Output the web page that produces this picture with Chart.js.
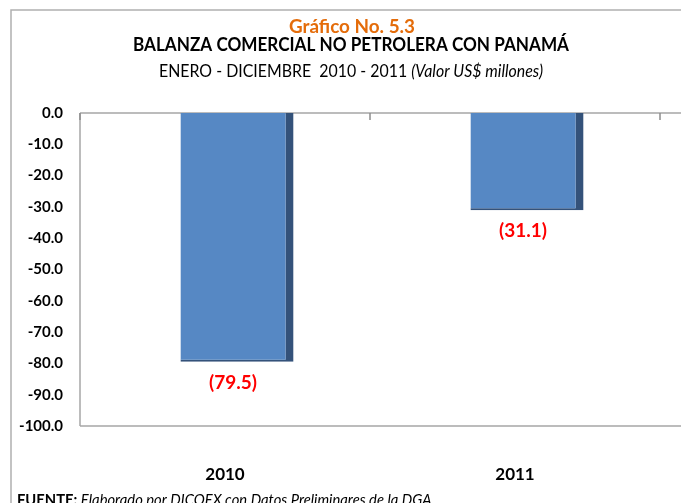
<!DOCTYPE html>
<html>
<head>
<meta charset="utf-8">
<script src="https://cdn.jsdelivr.net/npm/chart.js@4.4.0/dist/chart.umd.min.js"></script>
<style>
html,body{margin:0;padding:0;background:#ffffff;}
#wrap{width:681px;height:503px;position:relative;overflow:hidden;}
</style>
</head>
<body>
<div id="wrap"><canvas id="c" width="681" height="503"></canvas></div>
<script>
// ---- data ----
const categories = ['2010', '2011'];
const balanceValues = [-79.5, -31.1];
const valueLabels = ['(79.5)', '(31.1)'];
const yMin = -100;
const yMax = 0;
const yStep = 10;
const titleMain = 'Gráfico No. 5.3';
const titleSub = 'BALANZA COMERCIAL NO PETROLERA CON PANAMÁ';
const titlePeriod = 'ENERO - DICIEMBRE  2010 - 2011 ';
const titleUnits = '(Valor US$ millones)';
const sourceLead = 'FUENTE:';
const sourceText = ' Elaborado por DICOEX con Datos Preliminares de la DGA.';

// ---- style ----
const FONT = 'Lato, "Open Sans", "DejaVu Sans", sans-serif';
const DEPTH = 12;               // 3D depth offset of bars
const AXIS_GRAY = '#a6a6a6';

// draws mixed-style text at a given font size, squeezed horizontally to a target width
function drawParts(ctx, parts, size, target, x, y, align) {
  let w = 0;
  parts.forEach(p => { ctx.font = `${p.style} ${p.weight} ${size}px ${FONT}`; w += ctx.measureText(p.text).width; });
  const sx = Math.min(1.15, target / w);
  const total = w * sx;
  const startX = align === 'center' ? x - total / 2 : x;
  ctx.save();
  ctx.translate(startX, y);
  ctx.scale(sx, 1);
  ctx.textAlign = 'left';
  let cx = 0;
  parts.forEach(p => {
    ctx.font = `${p.style} ${p.weight} ${size}px ${FONT}`;
    ctx.fillStyle = p.color;
    ctx.fillText(p.text, cx, 0);
    cx += ctx.measureText(p.text).width;
  });
  ctx.restore();
}

const decorPlugin = {
  id: 'decor',
  beforeDatasetsDraw(chart) {
    const ctx = chart.ctx;
    const ca = chart.chartArea;
    const xs = chart.scales.x;
    const ys = chart.scales.y;
    const half = (xs.getPixelForValue(1) - xs.getPixelForValue(0)) / 2;
    const left = ca.left - DEPTH;
    const y0 = ys.getPixelForValue(yMax);
    const yb = ys.getPixelForValue(yMin);
    ctx.save();
    ctx.strokeStyle = AXIS_GRAY;
    ctx.lineWidth = 1.5;
    ctx.beginPath(); ctx.moveTo(left, y0); ctx.lineTo(left, yb); ctx.stroke();
    ctx.beginPath(); ctx.moveTo(left, yb); ctx.lineTo(chart.width, yb); ctx.stroke();
    ctx.beginPath(); ctx.moveTo(left, y0); ctx.lineTo(chart.width, y0); ctx.stroke();
    ctx.strokeStyle = '#8c8c8c';
    for (let i = 0; i <= categories.length; i++) {
      const px = xs.getPixelForValue(0) - half + i * 2 * half - DEPTH;
      ctx.beginPath(); ctx.moveTo(px, y0); ctx.lineTo(px, y0 + 7); ctx.stroke();
    }
    ctx.restore();
  },
  afterDatasetsDraw(chart) {
    const ctx = chart.ctx;
    const meta = chart.getDatasetMeta(0);
    ctx.save();
    ctx.font = `bold 19px ${FONT}`;
    ctx.fillStyle = '#ff0000';
    ctx.textAlign = 'center';
    ctx.textBaseline = 'middle';
    meta.data.forEach((bar, i) => {
      ctx.fillText(valueLabels[i], bar.x - 4, bar.y + 21);
    });
    ctx.restore();
  },
  afterDraw(chart) {
    const ctx = chart.ctx;
    ctx.save();
    ctx.strokeStyle = '#b0b0b0';
    ctx.lineWidth = 1.5;
    ctx.beginPath(); ctx.moveTo(11, chart.height); ctx.lineTo(11, 10); ctx.lineTo(chart.width, 10); ctx.stroke();
    ctx.textBaseline = 'alphabetic';
    drawParts(ctx, [{text: titleMain, weight: 'bold', style: 'normal', color: '#e46c0a'}],
      18.5, 126, 352, 33, 'center');
    drawParts(ctx, [{text: titleSub, weight: 'bold', style: 'normal', color: '#000000'}],
      18.5, 436, 351, 51, 'center');
    drawParts(ctx, [
      {text: titlePeriod, weight: 'normal', style: 'normal', color: '#000000'},
      {text: titleUnits, weight: 'normal', style: 'italic', color: '#000000'}
    ], 17.5, 384, 351, 77, 'center');
    drawParts(ctx, [
      {text: sourceLead, weight: 'bold', style: 'normal', color: '#000000'},
      {text: sourceText, weight: 'normal', style: 'italic', color: '#000000'}
    ], 15, 418, 17, 505, 'left');
    ctx.restore();
  }
};

new Chart(document.getElementById('c'), {
  type: 'bar',
  data: {
    labels: categories,
    datasets: [{
      data: balanceValues,
      backgroundColor: '#5688c4',
      borderColor: '#34527a',
      borderWidth: {top: 0, right: 8, bottom: 2, left: 0},
      borderSkipped: false,
      barPercentage: 0.39,
      categoryPercentage: 1.0
    }]
  },
  options: {
    responsive: false,
    animation: false,
    devicePixelRatio: 1,
    layout: {padding: {left: 0, right: 9, top: 113, bottom: 0}},
    plugins: {legend: {display: false}, tooltip: {enabled: false}, title: {display: false}},
    scales: {
      x: {
        grid: {display: false, drawTicks: false},
        border: {display: false},
        ticks: {
          color: '#000000',
          font: {family: FONT, size: 17, weight: 'bold'},
          padding: 38,
          labelOffset: -DEPTH
        },
        afterFit(scale) { scale.height = 77; }
      },
      y: {
        min: yMin,
        max: yMax,
        grid: {display: false, drawTicks: false},
        border: {display: false},
        ticks: {
          stepSize: yStep,
          color: '#000000',
          font: {family: FONT, size: 15, weight: 'bold'},
          padding: 29,
          callback: v => Number(v).toFixed(1)
        },
        afterFit(scale) { scale.width = 92; }
      }
    }
  },
  plugins: [decorPlugin]
});
</script>
</body>
</html>
